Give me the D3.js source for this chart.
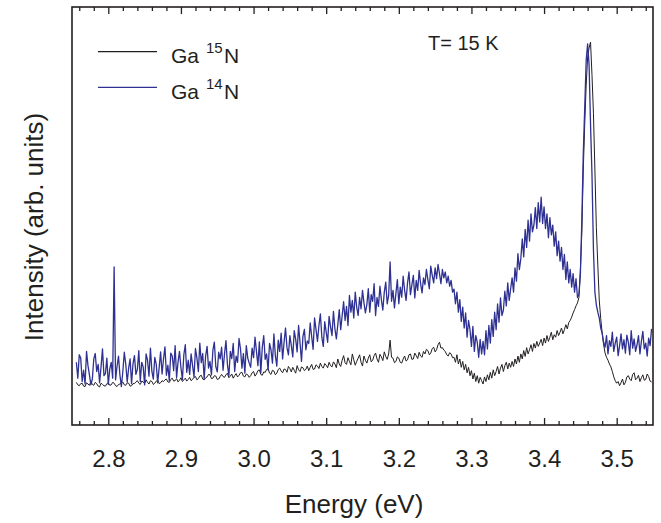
<!DOCTYPE html>
<html>
<head>
<meta charset="utf-8">
<script src="https://cdn.jsdelivr.net/npm/d3@7"></script>
<style>
  body { margin: 0; background: #fff; }
  text { font-family: Arial, "Liberation Sans", Helvetica, sans-serif; fill: #231f20; }
</style>
</head>
<body>
<svg id="chart" width="661" height="523"></svg>
<script>
// PL spectra, sampled every 2 meV starting at 2.756 eV
const E_START = 2.756, E_STEP = 0.002;

// Ga15N (black)
const ga15N = [
  102, 96, 94, 99, 100, 93, 92, 101, 98, 95, 104, 97, 95, 102, 99, 93, 91, 100, 97, 94,
  93, 99, 101, 95, 96, 102, 100, 94, 92, 97, 98, 100, 103, 96, 95, 101, 100, 93, 94, 99,
  99, 103, 106, 100, 97, 105, 103, 99, 108, 102, 98, 106, 104, 97, 100, 105, 107, 99, 101, 106,
  104, 108, 110, 103, 102, 109, 112, 105, 106, 111, 103, 107, 113, 104, 108, 112, 105, 109, 114, 106,
  109, 114, 116, 108, 111, 117, 119, 110, 108, 113, 115, 121, 120, 111, 112, 118, 117, 109, 110, 116,
  121, 116, 114, 120, 124, 113, 117, 122, 112, 118, 123, 115, 119, 125, 126, 117, 115, 122, 120, 114,
  118, 125, 128, 117, 122, 130, 132, 121, 119, 127, 126, 133, 135, 124, 121, 131, 129, 120, 124, 133,
  136, 129, 125, 134, 133, 126, 140, 135, 127, 138, 131, 124, 142, 132, 128, 139, 137, 130, 133, 141,
  130, 138, 145, 133, 134, 144, 141, 135, 148, 140, 136, 147, 143, 137, 150, 142, 139, 151, 146, 137,
  158, 146, 140, 155, 166, 149, 145, 161, 152, 144, 170, 156, 143, 152, 160, 168, 150, 141, 165, 155,
  148, 160, 168, 151, 155, 166, 172, 158, 150, 169, 163, 154, 175, 164, 157, 170, 203, 162, 160, 149,
  152, 163, 160, 150, 148, 158, 165, 153, 156, 168, 170, 157, 158, 172, 166, 159, 174, 165, 162, 176,
  170, 181, 178, 168, 172, 183, 186, 175, 180, 192, 198, 184, 185, 179, 176, 168, 165, 173, 170, 161,
  162, 150, 168, 146, 158, 138, 152, 132, 145, 125, 138, 118, 130, 110, 124, 104, 118, 100, 114, 106,
  98, 115, 104, 120, 108, 126, 112, 132, 118, 128, 140, 122, 136, 145, 128, 142, 150, 134, 148, 138,
  152, 140, 158, 146, 165, 150, 170, 158, 178, 164, 185, 170, 180, 192, 176, 195, 184, 200, 188, 196,
  205, 190, 208, 196, 214, 200, 210, 222, 204, 216, 210, 226, 214, 222, 232, 218, 228, 240, 230, 245,
  250, 258, 268, 276, 285, 292, 305, 371, 460, 610, 720, 813, 880, 902, 916, 837, 746, 610, 473, 383,
  299, 255, 220, 192, 172, 162, 155, 146, 139, 128, 115, 106, 100, 104, 94, 101, 110, 96, 102, 115,
  118, 110, 106, 121, 125, 108, 112, 119, 104, 113, 120, 107, 109, 122, 116, 105, 103
];

// Ga14N (blue)
const ga14N = [
  150, 112, 168, 160, 104, 131, 98, 176, 142, 120, 96, 110, 158, 171, 128, 145, 101, 139, 182, 118,
  123, 160, 97, 134, 150, 112, 378, 108, 140, 165, 119, 92, 128, 174, 146, 103, 136, 158, 99, 147,
  166, 121, 133, 178, 104, 150, 139, 96, 170, 155, 117, 184, 128, 110, 162, 145, 101, 137, 175, 122,
  158, 187, 119, 143, 106, 172, 165, 130, 190, 114, 151, 176, 137, 109, 168, 192, 126, 155, 121, 170,
  142, 115, 183, 160, 128, 196, 149, 171, 110, 165, 188, 136, 152, 120, 179, 198, 140, 127, 174, 158,
  186, 131, 170, 202, 145, 118, 176, 159, 195, 128, 165, 150, 207, 182, 136, 171, 124, 190, 160, 148,
  138, 184, 161, 210, 176, 142, 199, 125, 186, 214, 157, 170, 132, 195, 180, 148, 218, 166, 141, 203,
  176, 220, 158, 198, 232, 185, 168, 214, 190, 163, 226, 205, 175, 238, 196, 152, 212, 229, 180, 201,
  195, 244, 212, 181, 256, 228, 200, 238, 266, 210, 188, 247, 222, 198, 260, 235, 214, 272, 230, 206,
  240, 276, 228, 262, 295, 250, 284, 238, 310, 270, 298, 256, 318, 282, 262, 305, 278, 322, 292, 268,
  288, 326, 270, 312, 296, 338, 262, 305, 284, 332, 300, 275, 318, 342, 290, 310, 390, 296, 322, 280,
  315, 348, 290, 330, 306, 356, 322, 298, 340, 366, 312, 335, 358, 304, 346, 322, 370, 338, 316, 352,
  336, 372, 348, 326, 380, 358, 340, 376, 350, 384, 362, 338, 372, 352, 366, 340, 356, 332, 346, 318,
  325, 290, 318, 270, 300, 248, 282, 232, 268, 210, 250, 228, 188, 236, 176, 214, 198, 162, 205, 170,
  200, 168, 226, 182, 238, 196, 252, 212, 270, 228, 290, 246, 304, 262, 275, 320, 285, 340, 298, 326,
  352, 318, 376, 344, 410, 372, 398, 445, 402, 468, 425, 490, 440, 505, 462, 478, 520, 470, 532, 486,
  545, 482, 522, 470, 505, 448, 496, 455, 478, 428, 462, 405, 440, 392, 425, 372, 408, 348, 390, 340,
  372, 330, 362, 318, 350, 305, 312, 360, 490, 650, 760, 873, 912, 861, 718, 598, 419, 318, 287, 270,
  256, 232, 220, 198, 186, 214, 170, 202, 188, 222, 176, 196, 210, 166, 190, 218, 182, 204, 172, 215,
  198, 168, 226, 184, 206, 176, 192, 214, 170, 200, 224, 182, 196, 165, 208, 190, 230
];

const xTicks = [2.8, 2.9, 3.0, 3.1, 3.2, 3.3, 3.4, 3.5];
const legendNames = ["15", "14"];
const colors = ["#231f20", "#2e3192"];
const widths = [1.0, 1.3];

const svg = d3.select("#chart");
const plot = { left: 72, right: 653, top: 7, bottom: 425 };

const x = d3.scaleLinear().domain([2.75, 3.55]).range([plot.left, plot.right]);
const y = d3.scaleLinear().domain([0, 1000]).range([plot.bottom, plot.top]);

const minorTicks = d3.range(2.76, 3.551, 0.02).filter(v => !xTicks.some(t => Math.abs(t - v) < 1e-6));

const line = d3.line()
  .x((d, i) => x(E_START + i * E_STEP))
  .y(d => y(d));

// curves: black first, blue on top
[ga15N, ga14N].forEach((vals, i) => {
  svg.append("path")
    .attr("d", line(vals))
    .attr("fill", "none")
    .attr("stroke", colors[i])
    .attr("stroke-width", widths[i])
    .attr("stroke-linejoin", "round");
});

// axes
function styleAxis(g) {
  g.select(".domain").remove();
  g.selectAll(".tick line").attr("stroke", "#231f20").attr("stroke-width", 1.3);
}

svg.append("g")
  .attr("transform", `translate(0,${plot.bottom})`)
  .call(d3.axisBottom(x).tickValues(xTicks).tickSize(-7).tickPadding(25).tickFormat(d3.format(".1f")))
  .call(styleAxis)
  .call(g => g.selectAll("text").attr("font-size", 24).attr("fill", "#231f20")
    .style("font-family", "Arial, 'Liberation Sans', sans-serif"));

svg.append("g")
  .attr("transform", `translate(0,${plot.bottom})`)
  .call(d3.axisBottom(x).tickValues(minorTicks).tickSize(-4).tickFormat(""))
  .call(styleAxis);

svg.append("g")
  .attr("transform", `translate(0,${plot.top})`)
  .call(d3.axisTop(x).tickValues(xTicks).tickSize(-7).tickFormat(""))
  .call(styleAxis);

svg.append("g")
  .attr("transform", `translate(0,${plot.top})`)
  .call(d3.axisTop(x).tickValues(minorTicks).tickSize(-4).tickFormat(""))
  .call(styleAxis);

// frame
svg.append("rect")
  .attr("x", plot.left).attr("y", plot.top)
  .attr("width", plot.right - plot.left).attr("height", plot.bottom - plot.top)
  .attr("fill", "none").attr("stroke", "#231f20").attr("stroke-width", 1.6);

// axis titles
svg.append("text")
  .attr("x", 354).attr("y", 513)
  .attr("text-anchor", "middle")
  .attr("font-size", 26)
  .text("Energy (eV)");

svg.append("text")
  .attr("transform", "translate(43,227) rotate(-90)")
  .attr("text-anchor", "middle")
  .attr("font-size", 26)
  .text("Intensity (arb. units)");

// legend
const legend = svg.append("g");
legendNames.forEach((iso, i) => {
  const ly = 51.7 + i * 35.6;
  legend.append("line")
    .attr("x1", 98).attr("x2", 157).attr("y1", ly).attr("y2", ly)
    .attr("stroke", colors[i]).attr("stroke-width", 1.2);
  legend.append("text").attr("x", 171).attr("y", ly + 11.5).attr("font-size", 21).text("Ga");
  legend.append("text").attr("x", 206).attr("y", ly + 1.5).attr("font-size", 15).text(iso);
  legend.append("text").attr("x", 224).attr("y", ly + 11.5).attr("font-size", 21).text("N");
});

svg.append("text")
  .attr("x", 428).attr("y", 50)
  .attr("font-size", 20)
  .text("T= 15 K");
</script>
</body>
</html>
